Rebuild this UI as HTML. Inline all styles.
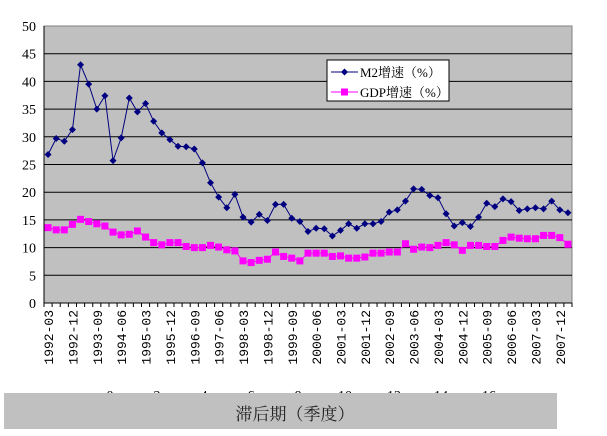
<!DOCTYPE html>
<html><head><meta charset="utf-8">
<style>
html,body{margin:0;padding:0;background:#fff;}
svg{display:block;font-family:"Liberation Serif","Noto Serif CJK SC",serif;}
</style></head>
<body>
<svg width="607" height="436" viewBox="0 0 607 436">
<rect x="44" y="26" width="528" height="277" fill="#c0c0c0" stroke="#808080" stroke-width="1"/>
<g id="grid"></g>
<g id="yaxis"></g>
<g id="xaxis"></g>
<g id="series"></g>
<g>
<rect x="327" y="60" width="122" height="41" fill="#fff" stroke="#000" stroke-width="1"/>
<g>
<line x1="331" y1="72" x2="358" y2="72" stroke="#000080" stroke-width="1"/>
<path d="M344.5 68.5 L348 72 L344.5 75.5 L341 72 Z" fill="#000080"/>
<text x="360" y="77" font-size="13" fill="#000">M2增速（%）</text>
</g>
<g>
<line x1="331" y1="92" x2="358" y2="92" stroke="#ff00ff" stroke-width="1"/>
<rect x="341" y="88.5" width="7" height="7" fill="#ff00ff"/>
<text x="360" y="97" font-size="13" fill="#000">GDP增速（%）</text>
</g>
</g>
<g font-size="14" fill="#000">
<text x="110" y="400" text-anchor="middle">0</text>
<text x="157" y="400" text-anchor="middle">2</text>
<text x="204" y="400" text-anchor="middle">4</text>
<text x="251" y="400" text-anchor="middle">6</text>
<text x="298" y="400" text-anchor="middle">8</text>
<text x="345" y="400" text-anchor="middle">10</text>
<text x="394" y="400" text-anchor="middle">12</text>
<text x="441" y="400" text-anchor="middle">14</text>
<text x="489" y="400" text-anchor="middle">16</text>
</g>
<rect x="4" y="393" width="553" height="36" fill="#c0c0c0"/>
<text x="295" y="420" text-anchor="middle" font-size="17" fill="#222">滞后期（季度）</text>
</svg>
<script>
const yTicks=[0,5,10,15,20,25,30,35,40,45,50];
const m2Values=[26.8,29.7,29.2,31.3,43,39.5,35,37.4,25.7,29.8,37,34.5,36,32.8,30.7,29.5,28.3,28.2,27.8,25.3,21.7,19.1,17.2,19.6,15.5,14.6,16,14.9,17.8,17.8,15.3,14.7,12.9,13.5,13.4,12.1,13.1,14.3,13.5,14.3,14.3,14.7,16.4,16.8,18.4,20.6,20.5,19.4,19.0,16.1,13.9,14.5,13.8,15.5,18.0,17.4,18.8,18.3,16.7,17.0,17.2,17.0,18.4,16.8,16.3];
const gdpValues=[13.6,13.2,13.2,14.2,15.1,14.7,14.3,13.9,12.8,12.3,12.4,13.0,11.9,10.9,10.5,10.9,10.9,10.2,10.0,10.0,10.4,10.1,9.6,9.4,7.6,7.3,7.7,7.9,9.2,8.4,8.1,7.6,9.0,9.0,9.0,8.4,8.5,8.1,8.1,8.3,9.0,9.0,9.2,9.2,10.7,9.7,10.1,10.0,10.4,10.9,10.5,9.5,10.4,10.4,10.2,10.2,11.3,11.9,11.7,11.6,11.6,12.2,12.2,11.8,10.6];
const startYear=1992;
const NS="http://www.w3.org/2000/svg";
const X0=44,X1=572,Y0=303,Y1=26;
const n=m2Values.length;
const cw=(X1-X0)/n;
function xPos(i){return X0+cw*(i+0.5);}
function yPos(v){return Y0-(v/50)*(Y0-Y1);}
function mk(tag,attrs,parent){const e=document.createElementNS(NS,tag);for(const k in attrs)e.setAttribute(k,attrs[k]);parent.appendChild(e);return e;}
function qLabel(i){const y=startYear+Math.floor(i/4);const m=((i%4)+1)*3;return y+"-"+(m<10?"0"+m:m);}
const grid=document.getElementById('grid'),ya=document.getElementById('yaxis'),xa=document.getElementById('xaxis'),ser=document.getElementById('series');
yTicks.forEach(t=>{
  const y=yPos(t);
  if(t>0&&t<50){const l=mk('line',{x1:X0,x2:X1,y1:y,y2:y,stroke:'#000','stroke-width':1},grid);
  
  }
  const tx=mk('text',{x:X0-8,y:y+5,'text-anchor':'end','font-size':14,fill:'#000'},ya);
  tx.textContent=t;
  
  
});
mk('line',{x1:X0,x2:X0,y1:Y1,y2:Y0,stroke:'#000'},ya);
mk('line',{x1:X0,x2:X1,y1:Y0,y2:Y0,stroke:'#000'},xa);
for(let i=0;i<=n;i++){mk('line',{x1:X0+cw*i,x2:X0+cw*i,y1:Y0,y2:Y0+4,stroke:'#000'},xa);}
for(let i=0;i<n;i+=3){
  const x=xPos(i);
  const tx=mk('text',{x:0,y:0,transform:`translate(${x+5},310) rotate(-90)`,'text-anchor':'end','font-size':13,'font-family':'Liberation Mono, monospace',fill:'#000'},xa);
  tx.textContent=qLabel(i);
  
  
}
function line(vals,color){
  const p=mk('polyline',{points:vals.map((v,i)=>xPos(i)+','+yPos(v)).join(' '),fill:'none',stroke:color,'stroke-width':1},ser);
  return p;
}
const lg=line(gdpValues,'#ff00ff');


gdpValues.forEach((v,i)=>{
  const r=mk('rect',{x:xPos(i)-3.5,y:yPos(v)-3.5,width:7,height:7,fill:'#ff00ff'},ser);
  
  
});
const lm=line(m2Values,'#000080');


m2Values.forEach((v,i)=>{
  const x=xPos(i),y=yPos(v);
  const d=mk('path',{d:`M${x} ${y-3.5} L${x+3.5} ${y} L${x} ${y+3.5} L${x-3.5} ${y} Z`,fill:'#000080'},ser);
  
  
});
</script>
</body></html>
